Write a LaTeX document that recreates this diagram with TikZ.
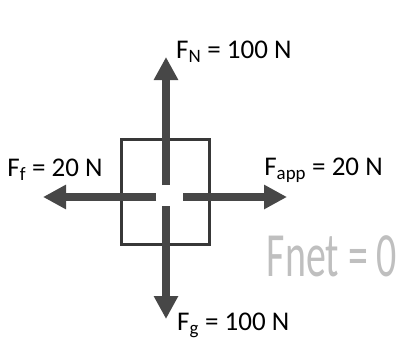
\documentclass[tikz,border=0pt]{standalone}
\usepackage{fontspec}
\setmainfont{Carlito}
\usetikzlibrary{arrows.meta}

\begin{document}
\begin{tikzpicture}[x=1pt,y=-1pt,
  force/.style={line width=8pt,draw=black!72,-{Triangle[width=23pt,length=23pt]}},
  forcelabel/.style={font=\fontsize{27}{31}\selectfont,inner sep=0pt},
  block/.style={draw=black!78,line width=3.2pt,minimum width=88pt,minimum height=105pt,inner sep=0pt}
]
  \useasboundingbox (0,0) rectangle (401,343);
  \node[block] (box) at (165.5,192) {};

  % start and end points of the four forces
  \coordinate (upstart) at (166,185);
  \coordinate (uptip) at (166,57);
  \coordinate (downstart) at (166,206);
  \coordinate (downtip) at (166,319);
  \coordinate (leftstart) at (156,197);
  \coordinate (lefttip) at (43,197);
  \coordinate (rightstart) at (183,197);
  \coordinate (righttip) at (287,197);

  \draw[force] (upstart) -- (uptip);
  \draw[force] (downstart) -- (downtip);
  \draw[force] (leftstart) -- (lefttip);
  \draw[force] (rightstart) -- (righttip);

  \node[forcelabel,anchor=west] (fn) at (176,52) {F\textsubscript{N} = 100 N};
  \node[forcelabel] (ff) at (55,170) {F\textsubscript{f} = 20 N};
  \node[forcelabel] (fapp) at (323.5,170) {F\textsubscript{app} = 20 N};
  \node[forcelabel,anchor=west] (fg) at (177,325) {F\textsubscript{g} = 100 N};

  \node[text=black!25,font=\fontsize{42}{46}\selectfont,xscale=0.95,yscale=1.5] (fnet) at (332,256) {Fnet = 0};
\end{tikzpicture}
\end{document}
